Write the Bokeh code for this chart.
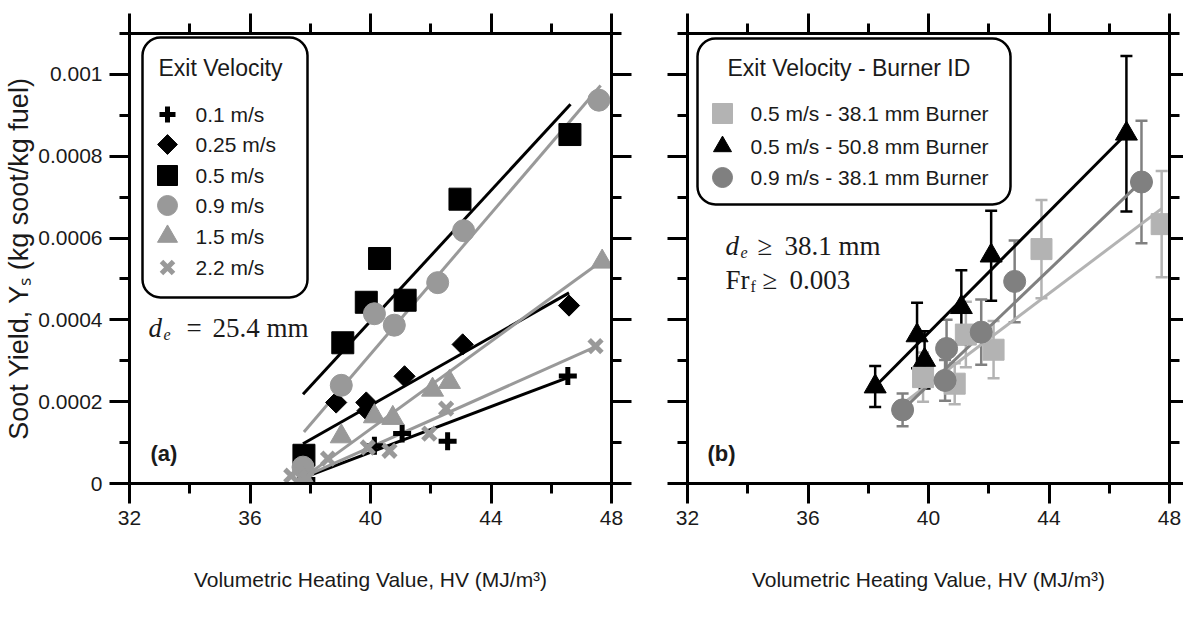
import numpy as np
from bokeh.plotting import figure
from bokeh.models import (Range1d, LinearAxis, FixedTicker, Label, BoxAnnotation,
                          Whisker, TeeHead, ColumnDataSource)
from bokeh.layouts import row
from bokeh.embed import file_html
from bokeh.resources import INLINE

# ---------------- data ----------------
x_ticks = [32, 36, 40, 44, 48]
x_minor = [34, 38, 42, 46]
y_ticks = [0, 0.0002, 0.0004, 0.0006, 0.0008, 0.001]
y_tick_labels = ["0", "0.0002", "0.0004", "0.0006", "0.0008", "0.001"]
y_minor = [0.0001, 0.0003, 0.0005, 0.0007, 0.0009, 0.0011]

x_title_text = "Volumetric Heating Value, HV (MJ/m³)"
y_title_text = "Soot Yield, Yₛ (kg soot/kg fuel)"

# panel (a): exit velocity series, d_e = 25.4 mm
v01_x = [37.87, 40.13, 41.05, 42.56, 46.55]
v01_y = [0.00001, 0.000092, 0.000122, 0.000103, 0.000263]
v025_x = [38.86, 39.86, 39.9, 41.13, 43.06, 46.59]
v025_y = [0.000198, 0.000198, 0.000178, 0.000262, 0.00034, 0.000435]
v05_x = [37.79, 39.08, 39.86, 40.3, 41.15, 42.97, 46.62]
v05_y = [0.000069, 0.000344, 0.000443, 0.00055, 0.000448, 0.000695, 0.000853]
v09_x = [37.76, 39.03, 40.13, 40.79, 42.23, 43.09, 47.58]
v09_y = [0.00004, 0.00024, 0.000415, 0.000387, 0.000491, 0.000618, 0.000937]
v15_x = [37.8, 39.03, 40.13, 40.74, 42.06, 42.62, 47.69]
v15_y = [0.00001, 0.000115, 0.000164, 0.00016, 0.000229, 0.000248, 0.000542]
v22_x = [37.37, 37.87, 38.59, 39.91, 40.63, 41.95, 42.51, 47.47]
v22_y = [0.000019, 0.000011, 0.000061, 0.000088, 0.00008, 0.000122, 0.000183, 0.000336]

# linear fits (end points) for panel (a)
fit01_x, fit01_y = [37.7, 46.55], [0.000012, 0.000259]
fit025_x, fit025_y = [37.76, 46.59], [0.000097, 0.000466]
fit05_x, fit05_y = [37.76, 46.64], [0.000218, 0.000927]
fit09_x, fit09_y = [37.79, 47.64], [0.000126, 0.000973]
fit15_x, fit15_y = [37.7, 47.7], [0.00001, 0.000545]
fit22_x, fit22_y = [37.6, 47.5], [0.00001, 0.000335]

# panel (b): burner comparison with error bars
sq_x = [39.82, 40.87, 41.24, 42.16, 43.75, 47.74]
sq_y = [0.00026, 0.000244, 0.000364, 0.000327, 0.000573, 0.000634]
sq_err = [0.00006, 0.00005, 0.00008, 0.00007, 0.00012, 0.00013]
tri_x = [38.23, 39.62, 39.87, 41.09, 42.08, 46.57]
tri_y = [0.000237, 0.000362, 0.000302, 0.000431, 0.000557, 0.000855]
tri_err = [0.00005, 0.00008, 0.00007, 0.00009, 0.00011, 0.00019]
circ_x = [39.14, 40.55, 40.6, 41.75, 42.86, 47.07]
circ_y = [0.00018, 0.000252, 0.00033, 0.00037, 0.000494, 0.000737]
circ_err = [0.00004, 0.00005, 0.00007, 0.00008, 0.0001, 0.00015]

fitsq_x, fitsq_y = [39.2, 47.74], [0.000198, 0.000672]
fittri_x, fittri_y = [38.23, 46.57], [0.000237, 0.000855]
fitcirc_x, fitcirc_y = [39.14, 46.95], [0.00018, 0.00073]

left_names = ["0.1 m/s", "0.25 m/s", "0.5 m/s", "0.9 m/s", "1.5 m/s", "2.2 m/s"]
right_names = ["0.5 m/s - 38.1 mm Burner", "0.5 m/s - 50.8 mm Burner", "0.9 m/s - 38.1 mm Burner"]

# ---------------- layout / style ----------------
W, H = 1183, 618
FT, FB = 33, 483
FW = 482
L_FL = 129
R_FL = 687
X0, X1 = 32, 48
Y0, Y1 = 0.0, 0.0011
GRAY = "#999999"
LGRAY = "#b3b3b3"
DGRAY = "#808080"
TXT = "#1a1a1a"
SANS = "Liberation Sans"
SERIF = "Liberation Serif"


def dx(px, fl):
    return X0 + (px - fl) * (X1 - X0) / FW


def dy(py):
    return Y0 + (FB - py) * (Y1 - Y0) / (FB - FT)


def style_axis(ax, show_labels, tick_out=20, minor_out=10):
    ax.axis_line_width = 3
    ax.axis_line_color = "black"
    ax.major_tick_line_width = 3
    ax.minor_tick_line_width = 3
    ax.major_tick_line_color = "black"
    ax.minor_tick_line_color = "black"
    ax.major_tick_out = tick_out
    ax.major_tick_in = 0
    ax.minor_tick_out = minor_out
    ax.minor_tick_in = 0
    ax.major_label_text_font = SANS
    if show_labels:
        ax.major_label_text_color = TXT
        ax.major_label_text_font_size = "21px"
        ax.major_label_standoff = 7
    else:
        ax.major_label_text_color = None
        ax.major_label_text_font_size = "0px"
        ax.major_label_standoff = 0


def make_fig(bl, br, ylabels, right_tick=20):
    p = figure(frame_width=FW, frame_height=FB - FT,
               x_range=Range1d(X0, X1), y_range=Range1d(Y0, Y1),
               x_axis_type=None, y_axis_type=None,
               output_backend="svg", toolbar_location=None,
               min_border_left=bl, min_border_right=br,
               min_border_top=FT, min_border_bottom=H - FB)
    p.outline_line_color = None
    p.background_fill_color = "white"
    p.border_fill_color = "white"
    xt = FixedTicker(ticks=x_ticks, minor_ticks=x_minor)
    yt = FixedTicker(ticks=y_ticks, minor_ticks=y_minor)
    ab = LinearAxis(ticker=xt)
    style_axis(ab, True)
    ab.axis_label = x_title_text
    ab.axis_label_text_font = SANS
    ab.axis_label_text_font_size = "21px"
    ab.axis_label_text_font_style = "normal"
    ab.axis_label_text_color = TXT
    ab.axis_label_standoff = 40
    p.add_layout(ab, "below")
    aa = LinearAxis(ticker=xt)
    style_axis(aa, False)
    p.add_layout(aa, "above")
    al = LinearAxis(ticker=yt)
    style_axis(al, ylabels)
    if ylabels:
        al.major_label_overrides = dict(zip(y_ticks, y_tick_labels))
        al.axis_label = y_title_text
        al.axis_label_text_font = SANS
        al.axis_label_text_font_size = "27px"
        al.axis_label_text_font_style = "normal"
        al.axis_label_text_color = TXT
        al.axis_label_standoff = 1
    p.add_layout(al, "left")
    ar = LinearAxis(ticker=yt)
    style_axis(ar, False, tick_out=right_tick, minor_out=min(10, right_tick))
    p.add_layout(ar, "right")
    return p


def lab(p, fl, px, py, text, font=SANS, size=20, style="normal", align="left",
        baseline="alphabetic", color=TXT):
    p.add_layout(Label(x=dx(px, fl), y=dy(py), text=text, text_font=font,
                       text_font_size=f"{size}px", text_font_style=style,
                       text_align=align, text_baseline=baseline,
                       text_color=color))


def legend_box(p, fl, left, right, top, bottom):
    box = BoxAnnotation(left=dx(left, fl), right=dx(right, fl), top=dy(top),
                        bottom=dy(bottom), fill_color="white", fill_alpha=1.0,
                        line_color="black", line_alpha=1.0, line_width=2.5,
                        level="underlay")
    try:
        box.border_radius = 18
    except Exception:
        pass
    p.add_layout(box)


# ---------------- panel (a) ----------------
pa = make_fig(L_FL, 38, True)

left_series = [
    (v01_x, v01_y, fit01_x, fit01_y, "black",
     dict(marker="cross", size=18, line_color="black", line_width=5), 16),
    (v025_x, v025_y, fit025_x, fit025_y, "black",
     dict(marker="square", size=15, angle=np.pi / 4, fill_color="black", line_color="black"), 14),
    (v05_x, v05_y, fit05_x, fit05_y, "black",
     dict(marker="square", size=22, fill_color="black", line_color="black"), 20),
    (v09_x, v09_y, fit09_x, fit09_y, GRAY,
     dict(marker="circle", size=22, fill_color=GRAY, line_color=GRAY), 20),
    (v15_x, v15_y, fit15_x, fit15_y, GRAY,
     dict(marker="triangle", size=22, fill_color=GRAY, line_color=GRAY), 20),
    (v22_x, v22_y, fit22_x, fit22_y, GRAY,
     dict(marker="x", size=18, line_color=GRAY, line_width=5), 17),
]

for xs, ys, fx, fy, col, mk, _ in left_series:
    pa.line(fx, fy, line_color=col, line_width=3)
for xs, ys, fx, fy, col, mk, _ in left_series:
    pa.scatter(xs, ys, **mk)

# legend (a)
legend_box(pa, L_FL, 142, 307, 37, 297)
lab(pa, L_FL, 158, 67, "Exit Velocity", size=23, baseline="middle")
left_rows = [114, 144, 175, 205, 236, 267]
for (xs, ys, fx, fy, col, mk, lsize), name, ry in zip(left_series, left_names, left_rows):
    m = dict(mk)
    m["size"] = lsize
    pa.scatter([dx(167, L_FL)], [dy(ry)], **m)
    lab(pa, L_FL, 195, ry, name, size=21, baseline="middle")

# annotation d_e = 25.4 mm
lab(pa, L_FL, 148, 327, "d", font=SERIF, size=27, style="italic")
lab(pa, L_FL, 163, 334, "e", font=SERIF, size=16, style="italic")
lab(pa, L_FL, 186, 327, "=", font=SERIF, size=27)
lab(pa, L_FL, 212, 327, "25.4 mm", font=SERIF, size=27)
lab(pa, L_FL, 150, 453, "(a)", size=22, style="bold", baseline="middle")

# ---------------- panel (b) ----------------
pb = make_fig(38, 14, False, right_tick=14)

right_series = [
    (sq_x, sq_y, sq_err, fitsq_x, fitsq_y, LGRAY,
     dict(marker="square", size=21, fill_color=LGRAY, line_color=LGRAY), 20),
    (tri_x, tri_y, tri_err, fittri_x, fittri_y, "black",
     dict(marker="triangle", size=22, fill_color="black", line_color="black"), 18),
    (circ_x, circ_y, circ_err, fitcirc_x, fitcirc_y, DGRAY,
     dict(marker="circle", size=22, fill_color=DGRAY, line_color=DGRAY), 20),
]

for xs, ys, es, fx, fy, col, mk, _ in right_series:
    src = ColumnDataSource(dict(x=xs, upper=[a + b for a, b in zip(ys, es)],
                                lower=[a - b for a, b in zip(ys, es)]))
    w = Whisker(base="x", upper="upper", lower="lower", source=src,
                line_color=col, line_width=2.5,
                upper_head=TeeHead(size=12, line_color=col, line_width=2.5),
                lower_head=TeeHead(size=12, line_color=col, line_width=2.5))
    pb.add_layout(w)
for xs, ys, es, fx, fy, col, mk, _ in right_series:
    pb.line(fx, fy, line_color=col, line_width=3)
for xs, ys, es, fx, fy, col, mk, _ in right_series:
    pb.scatter(xs, ys, **mk)

legend_box(pb, R_FL, 697, 1010, 38, 204)
lab(pb, R_FL, 727, 67, "Exit Velocity - Burner ID", size=23, baseline="middle")
right_rows = [113, 146, 177]
for (xs, ys, es, fx, fy, col, mk, lsize), name, ry in zip(right_series, right_names, right_rows):
    m = dict(mk)
    m["size"] = lsize
    pb.scatter([dx(722, R_FL)], [dy(ry)], **m)
    lab(pb, R_FL, 750, ry, name, size=21, baseline="middle")

lab(pb, R_FL, 725, 245, "d", font=SERIF, size=27, style="italic")
lab(pb, R_FL, 740, 252, "e", font=SERIF, size=16, style="italic")
lab(pb, R_FL, 757, 245, "≥", font=SERIF, size=27)
lab(pb, R_FL, 784, 245, "38.1 mm", font=SERIF, size=27)
lab(pb, R_FL, 725, 279, "Fr", font=SERIF, size=27)
lab(pb, R_FL, 750, 286, "f", font=SERIF, size=16)
lab(pb, R_FL, 762, 279, "≥", font=SERIF, size=27)
lab(pb, R_FL, 789, 279, "0.003", font=SERIF, size=27)
lab(pb, R_FL, 707, 453, "(b)", size=22, style="bold", baseline="middle")

layout = row(pa, pb)
open("out.html", "w").write(file_html(layout, INLINE))
